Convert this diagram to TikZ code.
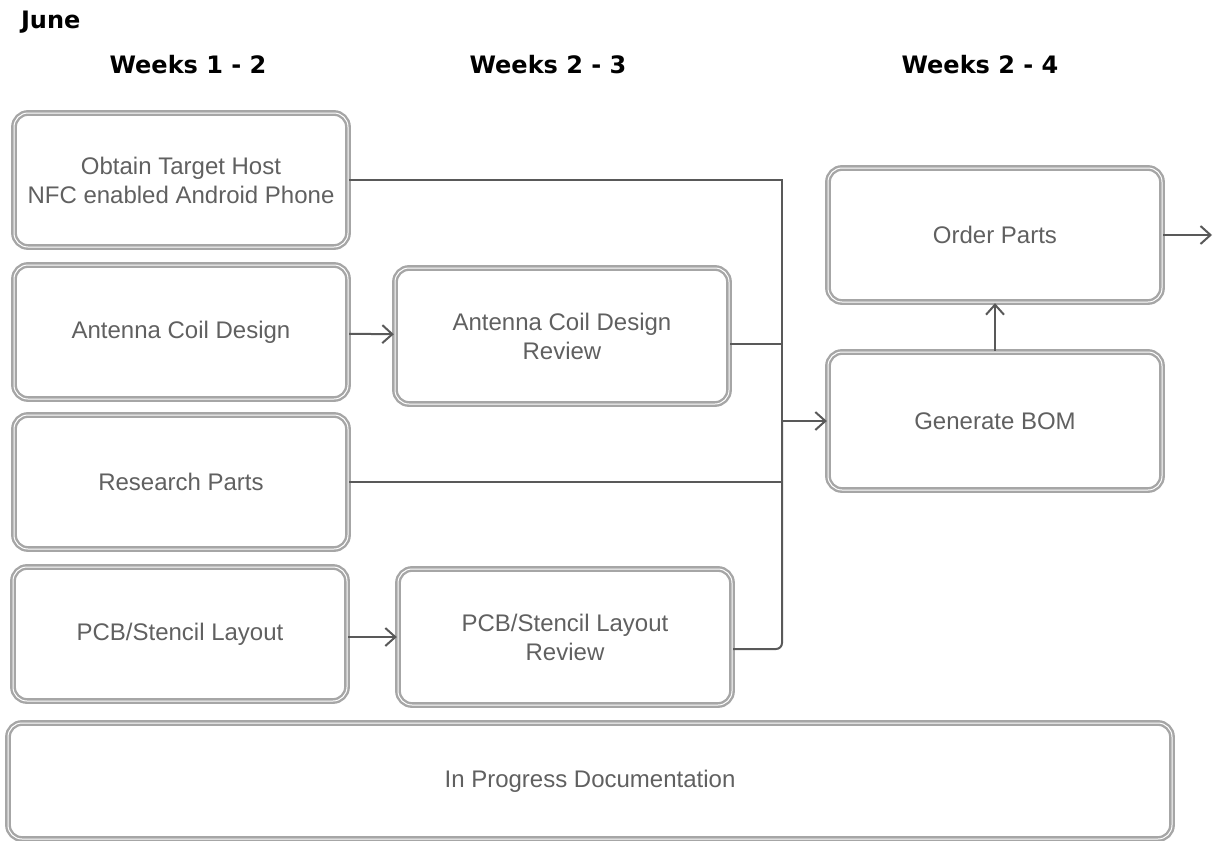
\documentclass[tikz,border=0pt]{standalone}
\usepackage{fontspec}
\setmainfont{Liberation Sans}
\newfontfamily\headfont{DejaVu Sans}
\usetikzlibrary{arrows.meta}

\tikzset{
  task/.style={draw=gray!70, line width=1.2pt, double=white, double distance=0.5pt,
    rounded corners=7pt, align=center, text=gray!75!black,
    font=\fontsize{12}{14.5}\selectfont,
    minimum width=167pt, minimum height=67pt, inner sep=2pt},
  flow/.style={draw=gray!70!black, line width=1pt},
  head/.style={font=\headfont\bfseries\large}
}

\begin{document}
\begin{tikzpicture}[x=0.5pt,y=-0.5pt]
  \useasboundingbox (0,0) rectangle (1217,841);
  % month and week headings
  \node[head, anchor=west] (month) at (14,22) {June};
  \node[head] (wk1) at (188,65) {Weeks 1 - 2};
  \node[head] (wk2) at (548,65) {Weeks 2 - 3};
  \node[head] (wk3) at (980,65) {Weeks 2 - 4};

  % tasks
  \node[task] (obtain) at (181,180) {Obtain Target Host\\NFC enabled Android Phone};
  \node[task] (coil) at (181,332) {Antenna Coil Design};
  \node[task, minimum height=68pt] (coilrev) at (562,336) {Antenna Coil Design\\Review};
  \node[task] (research) at (181,482) {Research Parts};
  \node[task] (pcb) at (180,634) {PCB/Stencil Layout};
  \node[task, minimum height=68pt] (pcbrev) at (565,637) {PCB/Stencil Layout\\Review};
  \node[task] (order) at (995,235) {Order Parts};
  \node[task, minimum height=69pt] (bom) at (995,421) {Generate BOM};
  \node[task, minimum width=582pt, minimum height=58pt] (docs) at (590,781) {In Progress Documentation};

  % review steps
  \draw[flow, -{Straight Barb[length=5pt,width=9pt]}] (coil) -- (coilrev);
  \draw[flow, -{Straight Barb[length=5pt,width=9pt]}] (pcb.east |- pcbrev) -- (pcbrev);

  % everything feeds the BOM
  \coordinate (bus) at (782,421);
  \draw[flow] (obtain.east) -| (bus);
  \draw[flow] ([yshift=-4pt]coilrev.east) -| (bus);
  \draw[flow] (research.east) -| (bus);
  \draw[flow, rounded corners=3pt] ([yshift=-6pt]pcbrev.east) -| (bus);
  \draw[flow, -{Straight Barb[length=5pt,width=9pt]}] (bus) -- (bom);
  \draw[flow, -{Straight Barb[length=5pt,width=9pt]}] (bom) -- (order);

  \coordinate (next) at (1212,235);
  \draw[flow, -{Straight Barb[length=5pt,width=9pt]}] (order) -- (next);
\end{tikzpicture}
\end{document}
